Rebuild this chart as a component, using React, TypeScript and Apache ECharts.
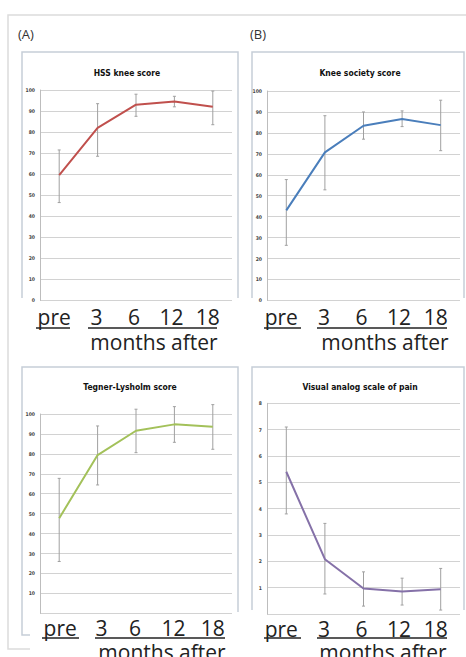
import React, { useEffect, useRef } from "react";
import * as echarts from "echarts";

const categories = ["pre", "3", "6", "12", "18"];

const panelLetters = ["(A)", "(B)"];
const titles = ["HSS knee score", "Knee society score", "Tegner-Lysholm score", "Visual analog scale of pain"];
const xAxisNote = "months after";

const hssMean = [59.5, 82, 93, 94.5, 92];
const hssLow = [46.5, 68.5, 87.5, 92, 83.5];
const hssHigh = [71.5, 93.5, 98, 97, 99.5];

const kssMean = [43, 70.7, 83.4, 86.6, 83.7];
const kssLow = [26.3, 52.8, 77, 83, 71.5];
const kssHigh = [57.7, 88.2, 90, 90.5, 95.6];

const tlsMean = [47.7, 79.4, 91.6, 94.8, 93.6];
const tlsLow = [26, 64.4, 80.6, 85.8, 82.3];
const tlsHigh = [67.7, 94, 102.4, 103.7, 104.7];

const vasMean = [5.4, 2.08, 0.97, 0.85, 0.94];
const vasLow = [3.8, 0.76, 0.3, 0.34, 0.15];
const vasHigh = [7.1, 3.44, 1.6, 1.36, 1.73];

const scoreTicks = { min: 0, max: 100, interval: 10 };
const vasTicks = { min: 0, max: 8, interval: 1 };

export default function App() {
  const ref = useRef<HTMLDivElement>(null);

  useEffect(() => {
    if (!ref.current) return;
    const chart = echarts.init(ref.current, null, { renderer: "svg" });

    const grids = [
      { left: 40, right: 234, top: 90, bottom: 356.6 },
      { left: 267, right: 6, top: 91, bottom: 356.6 },
      { left: 40, right: 234, top: 414, bottom: 43.7 },
      { left: 267, right: 6, top: 403.3, bottom: 43 },
    ];
    const colors = ["#c0504d", "#4a7ebb", "#a3c15a", "#8571a8"];
    const means = [hssMean, kssMean, tlsMean, vasMean];
    const lows = [hssLow, kssLow, tlsLow, vasLow];
    const highs = [hssHigh, kssHigh, tlsHigh, vasHigh];
    const ticks = [scoreTicks, scoreTicks, scoreTicks, vasTicks];
    const shifts = [-5, -1, -2, -3, -5];
    const bottomShifts = [1, 4, -1, -1, 0];

    const richFor = (row: number) => {
      const r: any = {};
      const sh = row === 0 ? shifts : bottomShifts;
      categories.forEach((_, i) => {
        const s = sh[i];
        r["c" + i] = {
          fontSize: 21,
          fontFamily: "Open Sans",
          color: "#222",
          padding: s < 0 ? [0, -2 * s, 0, 0] : [0, 0, 0, 2 * s],
        };
      });
      return r;
    };

    const xAxes = grids.map((_, g) => ({
      type: "category",
      gridIndex: g,
      data: categories,
      boundaryGap: true,
      axisLine: { show: false },
      axisTick: { show: false },
      splitLine: { show: false },
      axisLabel: {
        interval: 0,
        margin: g < 2 ? 6 : 4,
        fontSize: 21,
        fontFamily: "Open Sans",
        color: "#222",
        formatter: (v: string, i: number) => `{c${i}|${v}}`,
        rich: richFor(g === 2 ? 1 : 0),
      },
    }));

    const yAxes = grids.map((_, g) => ({
      type: "value",
      gridIndex: g,
      min: ticks[g].min,
      max: ticks[g].max,
      interval: ticks[g].interval,
      axisLine: { show: true, lineStyle: { color: "#bdbdbd", width: 1 } },
      axisTick: { show: false },
      splitLine: { show: true, lineStyle: { color: "#d2d2d2", width: 1.2 } },
      axisLabel: {
        fontSize: 5,
        fontWeight: "bold",
        fontFamily: "DejaVu Sans Condensed",
        color: "#444",
        margin: 5,
        formatter: (v: number) => (g >= 2 && v === 0 ? "" : String(v)),
      },
    }));

    const series: any[] = [];
    grids.forEach((_, g) => {
      series.push({
        type: "custom",
        xAxisIndex: g,
        yAxisIndex: g,
        z: 1,
        clip: false,
        encode: { x: 0, y: [1, 2] },
        data: categories.map((_, i) => [i, lows[g][i], highs[g][i]]),
        renderItem: (params: any, api: any) => {
          const x = api.value(0);
          const lo = api.coord([x, api.value(1)]);
          const hi = api.coord([x, api.value(2)]);
          const style = { stroke: "#a0a0a0", lineWidth: 1 };
          return {
            type: "group",
            children: [
              { type: "line", shape: { x1: lo[0], y1: lo[1], x2: hi[0], y2: hi[1] }, style },
              { type: "line", shape: { x1: lo[0] - 1.5, y1: lo[1], x2: lo[0] + 1.5, y2: lo[1] }, style },
              { type: "line", shape: { x1: hi[0] - 1.5, y1: hi[1], x2: hi[0] + 1.5, y2: hi[1] }, style },
            ],
          };
        },
      });
      series.push({
        type: "line",
        xAxisIndex: g,
        yAxisIndex: g,
        z: 3,
        data: means[g],
        showSymbol: false,
        symbol: "none",
        lineStyle: { color: colors[g], width: 2 },
        itemStyle: { color: colors[g] },
      });
    });

    const boxStroke = { stroke: "#c6ced8", lineWidth: 1.5, fill: "none" };
    const ulStyle = { stroke: "#222", lineWidth: 1.5 };
    const bigText = { fontSize: 21, fontFamily: "Open Sans", fill: "#222" };
    const titleStyle = { fontSize: 8.5, fontWeight: "bold", fontFamily: "DejaVu Sans Condensed", fill: "#111", textAlign: "center", textVerticalAlign: "middle" };

    const graphic: any[] = [
      { type: "polyline", shape: { points: [[470, 15], [8, 15], [8, 649], [30, 649]] }, style: { stroke: "#dcdcdc", lineWidth: 1.5, fill: "none" }, z: 0 },
      { type: "text", x: 18, y: 27, style: { text: panelLetters[0], fontSize: 13, fontFamily: "Open Sans", fill: "#333" } },
      { type: "text", x: 250, y: 27, style: { text: panelLetters[1], fontSize: 13, fontFamily: "Open Sans", fill: "#333" } },
      // chart boxes
      { type: "polyline", shape: { points: [[22, 298], [22, 52], [238, 52], [238, 298]] }, style: boxStroke },
      { type: "polyline", shape: { points: [[252, 298], [252, 52], [464, 52], [464, 298]] }, style: boxStroke },
      { type: "polyline", shape: { points: [[30, 635], [22, 635], [22, 367], [238, 367], [238, 612]] }, style: boxStroke },
      { type: "polyline", shape: { points: [[252, 610], [252, 367], [464, 367], [464, 610]] }, style: boxStroke },
      // titles
      { type: "text", x: 127, y: 73, style: { ...titleStyle, text: titles[0] } },
      { type: "text", x: 360, y: 73, style: { ...titleStyle, text: titles[1] } },
      { type: "text", x: 130, y: 387, style: { ...titleStyle, text: titles[2] } },
      { type: "text", x: 360, y: 387, style: { ...titleStyle, text: titles[3] } },
      // underlines
      { type: "line", shape: { x1: 36, y1: 328, x2: 70, y2: 328 }, style: ulStyle },
      { type: "line", shape: { x1: 88, y1: 328, x2: 217, y2: 328 }, style: ulStyle },
      { type: "line", shape: { x1: 264, y1: 328, x2: 301, y2: 328 }, style: ulStyle },
      { type: "line", shape: { x1: 317, y1: 328, x2: 447, y2: 328 }, style: ulStyle },
      { type: "line", shape: { x1: 42, y1: 638, x2: 79, y2: 638 }, style: ulStyle },
      { type: "line", shape: { x1: 95, y1: 638, x2: 225, y2: 638 }, style: ulStyle },
      { type: "line", shape: { x1: 264, y1: 638, x2: 301, y2: 638 }, style: ulStyle },
      { type: "line", shape: { x1: 317, y1: 638, x2: 447, y2: 638 }, style: ulStyle },
      // months after
      { type: "text", x: 154, y: 342, style: { ...bigText, text: xAxisNote, textAlign: "center", textVerticalAlign: "middle" } },
      { type: "text", x: 385, y: 342, style: { ...bigText, text: xAxisNote, textAlign: "center", textVerticalAlign: "middle" } },
      { type: "text", x: 162, y: 652, style: { ...bigText, text: xAxisNote, textAlign: "center", textVerticalAlign: "middle" } },
      { type: "text", x: 383, y: 652, style: { ...bigText, text: xAxisNote, textAlign: "center", textVerticalAlign: "middle" } },
    ];

    chart.setOption({
      animation: false,
      backgroundColor: "#ffffff",
      grid: grids.map((g) => ({ ...g, containLabel: false })),
      xAxis: xAxes,
      yAxis: yAxes,
      series,
      graphic,
    });

    return () => chart.dispose();
  }, []);

  return (
    <div
      ref={ref}
      style={{ position: "fixed", left: 0, top: 0, width: 466, height: 657 }}
    />
  );
}
